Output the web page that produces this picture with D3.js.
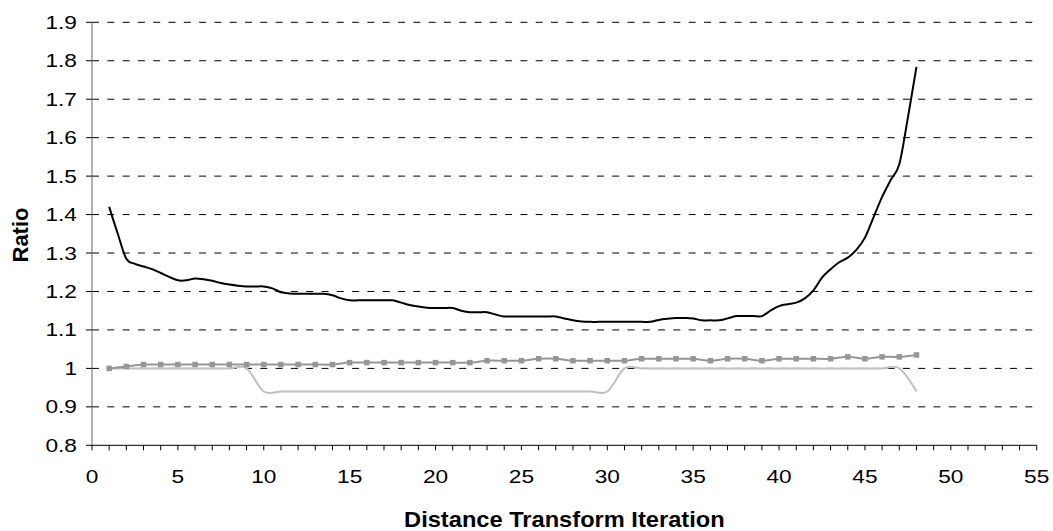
<!DOCTYPE html>
<html>
<head>
<meta charset="utf-8">
<script src="https://cdn.jsdelivr.net/npm/d3@7"></script>
<style>
  html, body { margin: 0; padding: 0; background: #fff; }
  svg { display: block; }
  text { font-family: "Liberation Sans", Arial, sans-serif; fill: #000; }
</style>
</head>
<body>
<svg id="chart" width="1053" height="531"></svg>
<script>
// Ratio measured at each distance transform iteration (three series)
const iterations = [1,2,3,4,5,6,7,8,9,10,11,12,13,14,15,16,17,18,19,20,21,22,23,24,
  25,26,27,28,29,30,31,32,33,34,35,36,37,38,39,40,41,42,43,44,45,46,47,48];

// Upper curve, sampled every half iteration
const upperX = [1,1.5,2,2.5,3,3.5,4,4.5,5,5.5,6,6.5,7,7.5,8,8.5,9,9.5,10,10.5,
  11,11.5,12,12.5,13,13.5,14,14.5,15,15.5,16,16.5,17,17.5,18,18.5,19,19.5,20,20.5,
  21,21.5,22,22.5,23,23.5,24,24.5,25,25.5,26,26.5,27,27.5,28,28.5,29,29.5,30,30.5,
  31,31.5,32,32.5,33,33.5,34,34.5,35,35.5,36,36.5,37,37.5,38,38.5,39,39.5,40,40.5,
  41,41.5,42,42.5,43,43.5,44,44.5,45,45.5,46,46.5,47,47.5,48];
const upperRatio = [1.42,1.35,1.285,1.272,1.265,1.258,1.248,1.238,1.229,1.229,
  1.234,1.232,1.228,1.222,1.218,1.215,1.213,1.213,1.213,1.208,
  1.198,1.195,1.194,1.194,1.194,1.194,1.19,1.182,1.177,1.177,
  1.177,1.177,1.177,1.177,1.171,1.165,1.161,1.158,1.157,1.157,
  1.157,1.15,1.146,1.146,1.146,1.14,1.135,1.135,1.135,1.135,
  1.135,1.135,1.135,1.13,1.125,1.122,1.121,1.121,1.121,1.121,
  1.121,1.121,1.121,1.121,1.126,1.129,1.131,1.131,1.13,1.125,
  1.125,1.125,1.13,1.136,1.136,1.136,1.136,1.15,1.162,1.167,
  1.171,1.182,1.203,1.236,1.258,1.276,1.288,1.308,1.34,1.393,
  1.446,1.49,1.531,1.652,1.784];

// Series drawn with square markers
const markedRatio = [1.0,1.005,1.01,1.01,1.01,1.01,1.01,1.01,1.01,1.01,1.01,1.01,1.01,1.01,
  1.015,1.015,1.015,1.015,1.015,1.015,1.015,1.015,1.02,1.02,1.02,1.025,1.025,
  1.02,1.02,1.02,1.02,1.025,1.025,1.025,1.025,1.02,1.025,1.025,1.02,
  1.025,1.025,1.025,1.025,1.03,1.025,1.03,1.03,1.035];

// Light grey series
const lightRatio = [1,1,1,1,1,1,1,1,1,
  0.94,0.94,0.94,0.94,0.94,0.94,0.94,0.94,0.94,0.94,0.94,0.94,0.94,0.94,0.94,0.94,0.94,0.94,0.94,0.94,0.94,
  1,1,1,1,1,1,1,1,1,1,1,1,1,1,1,1,1,
  0.94];

const xTicks = [0,5,10,15,20,25,30,35,40,45,50,55];
const xMinorTicks = [0,1,2,3,4,5,6,7,8,9,10,11,12,13,14,15,16,17,18,19,20,21,22,23,24,25,26,27,
  28,29,30,31,32,33,34,35,36,37,38,39,40,41,42,43,44,45,46,47,48,49,50,51,52,53,54,55];
const yTicks = [0.8,0.9,1.0,1.1,1.2,1.3,1.4,1.5,1.6,1.7,1.8,1.9];
const yTickLabels = ["0.8","0.9","1","1.1","1.2","1.3","1.4","1.5","1.6","1.7","1.8","1.9"];
const xTitle = "Distance Transform Iteration";
const yTitle = "Ratio";

const svg = d3.select("#chart");
const plot = { left: 92, right: 1036.7, top: 22.3, bottom: 445.3 };

const x = d3.scaleLinear().domain([0, 55]).range([plot.left, plot.right]);
const y = d3.scaleLinear().domain([0.8, 1.9]).range([plot.bottom, plot.top]);

const tickSX = 1.26;  // horizontal stretch of tick labels
const titleSX = 1.1;  // horizontal stretch of axis title

// dashed horizontal gridlines
svg.append("g")
  .selectAll("line")
  .data(yTicks.filter(v => v > 0.8))
  .join("line")
  .attr("x1", plot.left).attr("x2", plot.right)
  .attr("y1", d => y(d)).attr("y2", d => y(d))
  .attr("stroke", "#000").attr("stroke-width", 1)
  .attr("stroke-dasharray", "7,8.3");

// y axis
const yAxis = svg.append("g");
yAxis.append("line")
  .attr("x1", plot.left).attr("x2", plot.left)
  .attr("y1", plot.top).attr("y2", plot.bottom)
  .attr("stroke", "#808080").attr("stroke-width", 1.2);
yAxis.selectAll("line.tick")
  .data(yTicks)
  .join("line").attr("class", "tick")
  .attr("x1", plot.left - 6).attr("x2", plot.left)
  .attr("y1", d => y(d)).attr("y2", d => y(d))
  .attr("stroke", "#000").attr("stroke-width", 1);
yAxis.selectAll("text")
  .data(yTicks)
  .join("text")
  .attr("text-anchor", "end")
  .attr("font-size", 18)
  .attr("dy", "0.36em")
  .attr("transform", d => `translate(${plot.left - 15},${y(d)}) scale(${tickSX},1)`)
  .text((d, i) => yTickLabels[i]);

// x axis
const xAxis = svg.append("g");
xAxis.append("line")
  .attr("x1", plot.left).attr("x2", plot.right)
  .attr("y1", plot.bottom).attr("y2", plot.bottom)
  .attr("stroke", "#000").attr("stroke-width", 1);
xAxis.selectAll("line.tick")
  .data(xMinorTicks)
  .join("line").attr("class", "tick")
  .attr("x1", d => x(d)).attr("x2", d => x(d))
  .attr("y1", plot.bottom).attr("y2", plot.bottom + 5)
  .attr("stroke", "#000").attr("stroke-width", 1);
xAxis.selectAll("text")
  .data(xTicks)
  .join("text")
  .attr("text-anchor", "middle")
  .attr("font-size", 18)
  .attr("transform", d => `translate(${x(d)},${482.5}) scale(${tickSX},1)`)
  .text(d => d);

// axis titles
svg.append("text")
  .attr("text-anchor", "middle")
  .attr("font-size", 21.5).attr("font-weight", "bold")
  .attr("transform", `translate(${(plot.left + plot.right) / 2},527) scale(${titleSX},1)`)
  .text(xTitle);
svg.append("text")
  .attr("text-anchor", "middle")
  .attr("font-size", 22).attr("font-weight", "bold")
  .attr("transform", `translate(28,235) rotate(-90)`)
  .text(yTitle);

const smooth = d3.curveCatmullRom.alpha(0);

// light grey series
svg.append("path")
  .datum(iterations.map((d, i) => [d, lightRatio[i]]))
  .attr("fill", "none").attr("stroke", "#c0c0c0").attr("stroke-width", 2)
  .attr("d", d3.line().x(d => x(d[0])).y(d => y(d[1])).curve(smooth));

// marked series
svg.append("path")
  .datum(iterations.map((d, i) => [d, markedRatio[i]]))
  .attr("fill", "none").attr("stroke", "#969696").attr("stroke-width", 2)
  .attr("d", d3.line().x(d => x(d[0])).y(d => y(d[1])).curve(smooth));
svg.append("g")
  .selectAll("rect")
  .data(iterations.map((d, i) => [d, markedRatio[i]]))
  .join("rect")
  .attr("x", d => x(d[0]) - 2.75).attr("y", d => y(d[1]) - 2.75)
  .attr("width", 5.5).attr("height", 5.5)
  .attr("fill", "#969696");

// upper series
svg.append("path")
  .datum(upperX.map((d, i) => [d, upperRatio[i]]))
  .attr("fill", "none").attr("stroke", "#000").attr("stroke-width", 2)
  .attr("d", d3.line().x(d => x(d[0])).y(d => y(d[1])).curve(smooth));
</script>
</body>
</html>
